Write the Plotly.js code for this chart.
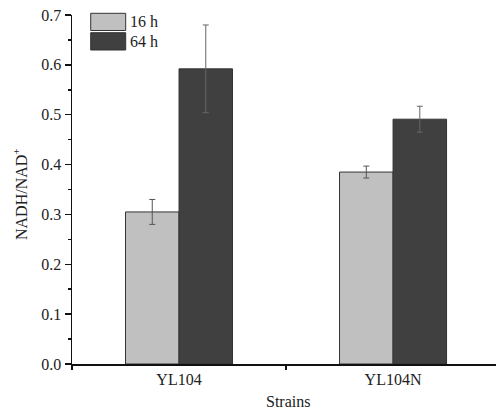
<!DOCTYPE html>
<html>
<head>
<meta charset="utf-8">
<script src="https://cdn.plot.ly/plotly-3.0.1.min.js"></script>
<style>html,body{margin:0;padding:0;background:#fff;}#chart{width:496px;height:410px;}</style>
</head>
<body>
<div id="chart"></div>
<script>
const strains = ["YL104", "YL104N"];
const seriesNames = ["16 h", "64 h"];
const values16h = [0.305, 0.385];
const errors16h = [0.025, 0.012];
const values64h = [0.592, 0.491];
const errors64h = [0.088, 0.026];
const yTickVals = [0, 0.1, 0.2, 0.3, 0.4, 0.5, 0.6, 0.7];
const yTickText = ["0.0", "0.1", "0.2", "0.3", "0.4", "0.5", "0.6", "0.7"];

const colors = ["#c0c0c0", "#404040"];
const fontFam = "'Liberation Serif', 'Times New Roman', serif";

const traces = [
  {type: "bar", name: seriesNames[0], x: strains, y: values16h,
   marker: {color: colors[0], line: {color: "#333", width: 1}},
   error_y: {type: "data", array: errors16h, visible: true, color: "#555", thickness: 1, width: 3},
   showlegend: false},
  {type: "bar", name: seriesNames[1], x: strains, y: values64h,
   marker: {color: colors[1], line: {color: "#333", width: 1}},
   error_y: {type: "data", array: errors64h, visible: true, color: "#666", thickness: 1, width: 3},
   showlegend: false}
];

const layout = {
  width: 496, height: 410,
  margin: {l: 72, r: 0, t: 15, b: 46},
  paper_bgcolor: "#fff", plot_bgcolor: "#fff",
  barmode: "group", bargap: 0.5, bargroupgap: 0,
  font: {family: fontFam, size: 16, color: "#222"},
  xaxis: {
    type: "category", range: [-0.5, 1.481],
    showline: true, linecolor: "#111", linewidth: 1.5,
    ticks: "outside", tickson: "boundaries", ticklen: 4, tickcolor: "#111", tickwidth: 1.5,
    showgrid: false, zeroline: false,
    tickfont: {family: fontFam, size: 16, color: "#222"}
  },
  yaxis: {
    range: [0, 0.7], tickvals: yTickVals, ticktext: yTickText,
    showline: true, linecolor: "#111", linewidth: 1.5,
    ticks: "outside", ticklen: 6, tickcolor: "#111", tickwidth: 1.5,
    minor: {dtick: 0.05, ticks: "outside", ticklen: 3, tickcolor: "#111", tickwidth: 1.5, showgrid: false},
    showgrid: false, zeroline: false,
    tickfont: {family: fontFam, size: 16, color: "#222"}
  },
  shapes: [
    {type: "rect", xref: "paper", yref: "paper",
     x0: (90.7 - 72) / 424, x1: (125.7 - 72) / 424,
     y0: (364 - 30.5) / 349, y1: (364 - 13.3) / 349,
     fillcolor: colors[0], line: {color: "#333", width: 1}},
    {type: "rect", xref: "paper", yref: "paper",
     x0: (90.7 - 72) / 424, x1: (125.7 - 72) / 424,
     y0: (364 - 50) / 349, y1: (364 - 32.7) / 349,
     fillcolor: colors[1], line: {color: "#333", width: 1}}
  ],
  annotations: [
    {text: seriesNames[0], xref: "paper", yref: "paper", x: (128 - 72) / 424, y: (364 - 22) / 349,
     xanchor: "left", yanchor: "middle", showarrow: false, font: {family: fontFam, size: 16, color: "#222"}},
    {text: seriesNames[1], xref: "paper", yref: "paper", x: (128 - 72) / 424, y: (364 - 41.5) / 349,
     xanchor: "left", yanchor: "middle", showarrow: false, font: {family: fontFam, size: 16, color: "#222"}},
    {text: "NADH/NAD<sup>+</sup>", xref: "paper", yref: "paper", x: -(72 - 20) / 424, y: (364 - 194) / 349,
     xanchor: "center", yanchor: "middle", textangle: -90, showarrow: false,
     font: {family: fontFam, size: 16, color: "#222"}},
    {text: "Strains", xref: "paper", yref: "paper", x: (288 - 72) / 424, y: -(401 - 364) / 349,
     xanchor: "center", yanchor: "middle", showarrow: false,
     font: {family: fontFam, size: 16, color: "#222"}}
  ]
};

Plotly.newPlot("chart", traces, layout, {staticPlot: true, displayModeBar: false});
</script>
</body>
</html>
